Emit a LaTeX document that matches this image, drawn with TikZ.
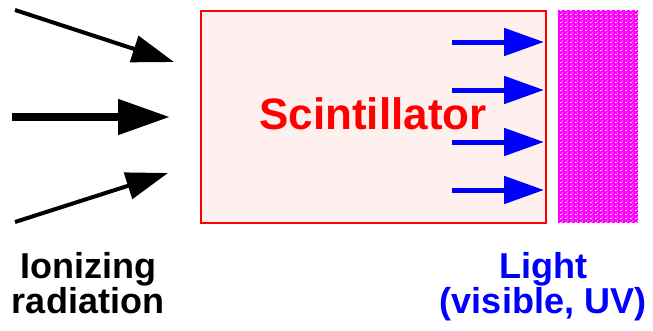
\documentclass[tikz,border=0pt]{standalone}
\usepackage{fontspec}
\setmainfont{Liberation Sans}
\usetikzlibrary{arrows.meta,patterns}
\definecolor{scfill}{RGB}{255,240,240}
\definecolor{lightblue}{RGB}{0,0,255}
\definecolor{detmag}{RGB}{255,0,255}
\pgfdeclarepatternformonly{speckles}{\pgfqpoint{0pt}{0pt}}{\pgfqpoint{5pt}{4pt}}{\pgfqpoint{5pt}{4pt}}{%
  \pgfpathrectangle{\pgfqpoint{0pt}{0pt}}{\pgfqpoint{2pt}{1pt}}%
  \pgfpathrectangle{\pgfqpoint{2.5pt}{2pt}}{\pgfqpoint{1pt}{1pt}}%
  \pgfusepath{fill}}
\tikzset{
  radarrow/.style={draw=black,line width=#1,-{Triangle[length=42pt,width=27pt]}},
  lightarrow/.style={draw=lightblue,line width=5pt,-{Triangle[length=40pt,width=27pt]}},
  lbl/.style={font=\bfseries\fontsize{36}{36}\selectfont,align=center,inner sep=0pt},
}
\begin{document}
\begin{tikzpicture}[x=1pt,y=-1pt]
\useasboundingbox (0,0) rectangle (653,330);
% scintillator
\node[draw=red,line width=1.5pt,fill=scfill,minimum width=345pt,minimum height=212pt,anchor=north west,inner sep=0pt] (scint) at (200,10) {};
\node[text=red,font=\bfseries\fontsize{44}{44}\selectfont,inner sep=0pt,anchor=base] (sname) at (373,129) {Scintillator};
% detector
\node[draw=detmag,line width=1pt,fill=detmag,minimum width=79pt,minimum height=212pt,anchor=north west,inner sep=0pt] (det) at (558,10) {};
\fill[pattern=speckles,pattern color=white] (det.north west) rectangle (det.south east);
% incoming radiation
\coordinate (r1s) at (15,10);  \coordinate (r1e) at (174,62);
\coordinate (r2s) at (12,117); \coordinate (r2e) at (170,117);
\coordinate (r3s) at (15,222); \coordinate (r3e) at (168,173);
\draw[radarrow=4pt] (r1s) -- (r1e);
\draw[radarrow=8pt,-{Triangle[length=52pt,width=34pt]}] (r2s) -- (r2e);
\draw[radarrow=4pt] (r3s) -- (r3e);
% light arrows
\foreach \i/\y in {1/42,2/90,3/142,4/190}{
  \coordinate (l\i s) at (452,\y);
  \coordinate (l\i e) at (544,\y);
  \draw[lightarrow] (l\i s) -- (l\i e);
}
% labels
\node[lbl,anchor=base] (ion) at (88,278) {Ionizing};
\node[lbl,anchor=base] (rad) at (88,313) {radiation};
\node[lbl,anchor=base,text=lightblue] (light) at (543,278) {Light};
\node[lbl,anchor=base,text=lightblue] (vis) at (543,313) {(visible, UV)};
\end{tikzpicture}
\end{document}
